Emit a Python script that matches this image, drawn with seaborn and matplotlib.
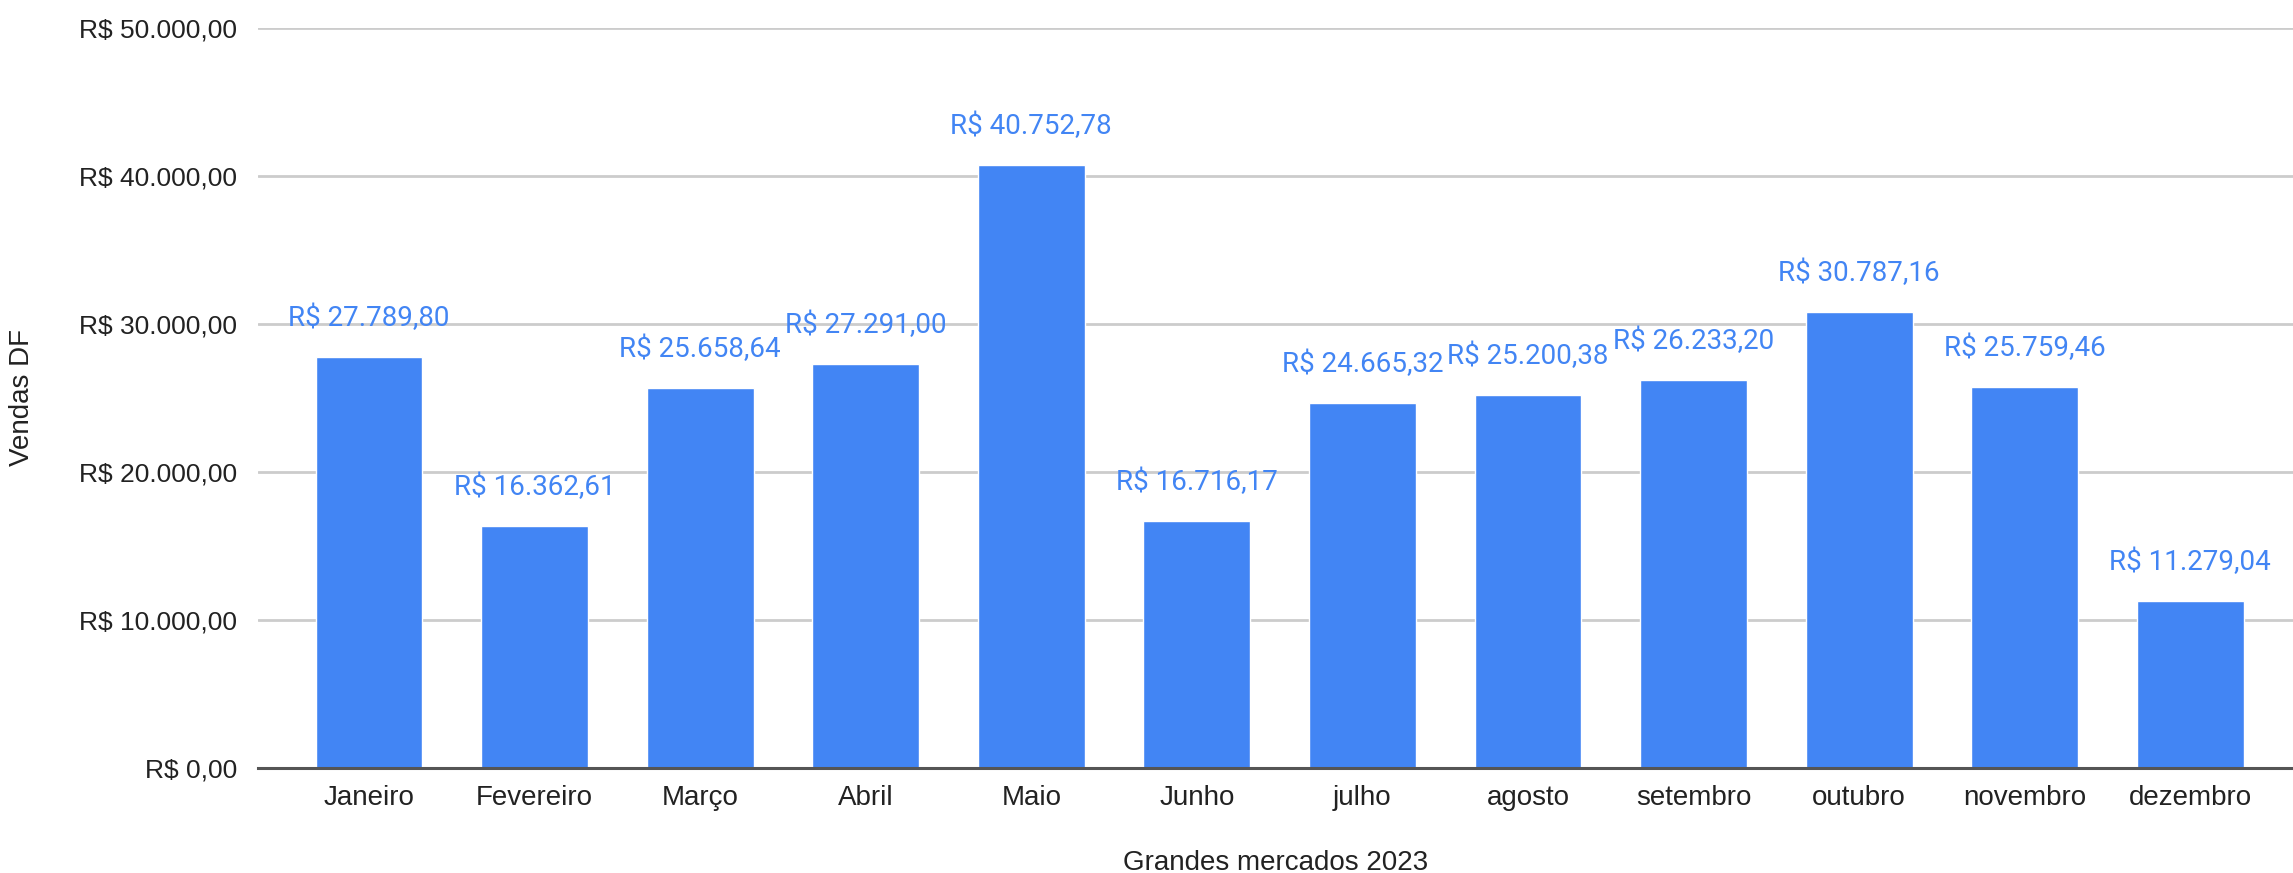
import matplotlib
matplotlib.use("Agg")
import matplotlib.pyplot as plt
import seaborn as sns
import pandas as pd

months = ["Janeiro", "Fevereiro", "Março", "Abril", "Maio", "Junho", "julho",
          "agosto", "setembro", "outubro", "novembro", "dezembro"]
sales = [27789.80, 16362.61, 25658.64, 27291.00, 40752.78, 16716.17, 24665.32,
         25200.38, 26233.20, 30787.16, 25759.46, 11279.04]
y_ticks = [0, 10000, 20000, 30000, 40000, 50000]


def brl(v):
    s = f"{v:,.2f}"
    s = s.replace(",", "X").replace(".", ",").replace("X", ".")
    return "R$ " + s


sns.set_theme(style="white")
plt.rcParams['font.family'] = ['Liberation Sans', 'DejaVu Sans']

df = pd.DataFrame({"month": months, "sales": sales})

fig = plt.figure(figsize=(22.93, 8.73), dpi=100)
ax = fig.add_axes([258 / 2293, 1 - 768 / 873, 1 - 258 / 2293, (768 - 28) / 873])

sns.barplot(data=df, x="month", y="sales", color="#4285F4", saturation=1,
            width=0.645, ax=ax, zorder=3)

ax.set_ylim(0, 50000)
ax.set_xlim(-0.67, 11.62)
ax.set_yticks(y_ticks)
ax.set_yticklabels([brl(v) for v in y_ticks], fontsize=19, color="#222222")
ax.tick_params(axis="y", length=0, pad=15)
ax.tick_params(axis="x", length=0, pad=12, labelsize=20, labelcolor="#222222")

ax.grid(axis="y", color="#cccccc", linewidth=2, zorder=0)
ax.grid(axis="x", visible=False)
for s in ["top", "right", "left"]:
    ax.spines[s].set_visible(False)
ax.spines["bottom"].set_color("#555555")
ax.spines["bottom"].set_linewidth(2.2)
ax.spines["bottom"].set_zorder(4)

for i, v in enumerate(sales):
    ax.annotate(brl(v), (i, v), xytext=(0, 18), textcoords="offset points",
                ha="center", va="bottom", fontsize=20, color="#4285F4",
                family=["Roboto", "DejaVu Sans"], zorder=5)

ax.set_xlabel("Grandes mercados 2023", fontsize=20, color="#222222", labelpad=28)
ax.set_ylabel("")
fig.text(22 / 2293, 1 - 398 / 873, "Vendas DF", rotation=90, ha="center",
         va="center", fontsize=20, color="#222222")

fig.savefig("out.png", dpi=100, facecolor="white")
